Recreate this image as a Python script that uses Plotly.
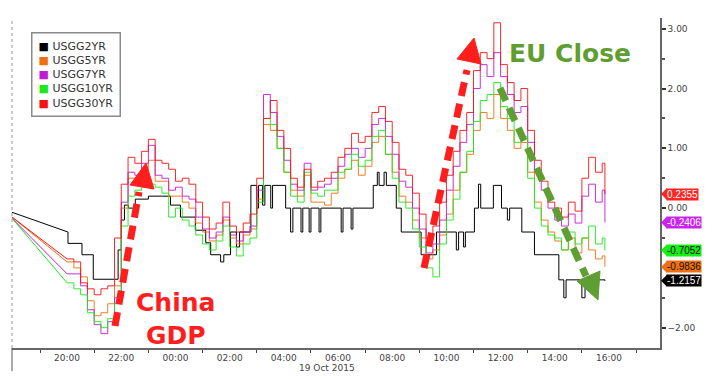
import plotly.graph_objects as go
import pandas as pd

# ---------------- data ----------------
series_names = ["USGG2YR", "USGG5YR", "USGG7YR", "USGG10YR", "USGG30YR"]
series_colors = ["#000000", "#f0700f", "#c21bd6", "#19ea19", "#f41414"]

gap_start_time = "2015-10-18 17:58"
grid_start = "2015-10-18 20:00"
grid_periods = 80
last_time = "2015-10-19 15:51"

# gap start values (weekend gap drawn as straight line)
gap_start_vals = [-0.07, -0.15, -0.17, -0.17, -0.15]

usgg5 = [-0.9, -1.0, -1.15, -1.55, -1.8, -1.75, -1.6, -1.3, 0.0, 0.5,
         0.45, 0.6, 0.8, 0.45, 0.45, 0.2, 0.2, 0.1, 0.0, -0.25,
         -0.4, -0.55, -0.45, -0.2, -0.5, -0.6, -0.45, -0.35, 0.15, 1.4,
         1.3, 1.0, 0.6, 0.3, 0.2, 0.55, 0.1, 0.1, 0.05, 0.25,
         0.5, 0.65, 0.8, 0.55, 0.7, 1.1, 1.2, 0.9, 0.6, 0.2,
         0.1, -0.2, -0.5, -0.85, -0.7, -0.45, -0.1, 0.3, 0.6, 0.9,
         1.3, 1.6, 1.5, 1.9, 1.5, 1.3, 1.0, 1.1, 0.6, 0.1,
         -0.2, -0.4, -0.55, -0.7, -0.5, -0.75, -0.5, -0.7, -0.85, -0.8,
         -0.9836]
usgg7 = [-1.1, -1.1, -1.3, -1.7, -1.95, -2.1, -1.9, -1.5, 0.1, 0.6,
         0.55, 0.75, 1.05, 0.55, 0.5, 0.3, 0.35, 0.2, 0.15, -0.15,
         -0.35, -0.5, -0.4, -0.15, -0.45, -0.55, -0.4, -0.3, 0.3, 1.9,
         1.6, 1.2, 0.8, 0.4, 0.3, 0.75, 0.3, 0.35, 0.4, 0.5,
         0.7, 0.9, 1.0, 0.85, 1.0, 1.4, 1.5, 1.2, 0.9, 0.45,
         0.35, 0.0, -0.35, -0.75, -0.6, -0.2, 0.3, 0.7, 1.1, 1.4,
         2.0, 2.4, 2.2, 2.6, 2.2, 1.9, 1.6, 1.7, 1.1, 0.6,
         0.3, 0.0, -0.2, -0.3, -0.1, -0.25, 0.2, 0.4, 0.1, 0.3,
         -0.2406]
usgg10 = [-1.25, -1.35, -1.45, -1.75, -1.9, -2.0, -1.85, -1.6, -0.3, 0.2,
          0.3, 0.6, 0.4, 0.35, 0.25, -0.15, 0.0, -0.2, -0.3, -0.45,
          -0.6, -0.7, -0.55, -0.3, -0.65, -0.8, -0.6, -0.5, 0.1, 1.5,
          1.4, 1.0, 0.6, 0.2, 0.1, 0.6, 0.25, 0.2, 0.3, 0.3,
          0.6, 0.65, 0.9, 0.7, 0.8, 1.2, 1.3, 0.9, 0.5, 0.1,
          0.0, -0.35, -0.65, -1.0, -1.15, -0.6, -0.2, 0.15, 0.6, 0.95,
          1.45, 1.8, 1.9, 2.1, 1.7, 1.5, 1.1, 1.2, 0.5, 0.0,
          -0.3, -0.45, -0.5, -0.7, -0.4, -0.6, -0.5, -0.3, -0.6, -0.5,
          -0.7052]
usgg30 = [-0.85, -0.9, -1.25, -1.35, -1.45, -1.35, -1.3, -0.5, 0.4, 0.85,
          0.75, 0.95, 1.15, 0.8, 0.75, 0.65, 0.45, 0.5, 0.4, 0.1,
          -0.15, -0.35, -0.25, 0.1, -0.3, -0.4, -0.25, -0.1, 0.5, 1.5,
          1.8, 1.3, 1.0, 0.5, 0.35, 0.65, 0.35, 0.45, 0.5, 0.6,
          0.85, 1.0, 1.25, 1.1, 1.2, 1.6, 1.7, 1.45, 1.1, 0.65,
          0.55, 0.25, -0.1, -0.5, -0.3, 0.1, 0.55, 0.95, 1.3, 1.6,
          2.3, 2.6, 2.5, 3.1, 2.4, 2.1, 1.8, 2.0, 1.3, 0.8,
          0.45, 0.1, 0.0, -0.15, 0.1, -0.05, 0.5, 0.85, 0.6, 0.75,
          0.2355]

usgg2_times = ["20:02", "20:33", "20:58", "21:53", "22:00", "22:07", "22:16", "22:31",
               "23:00", "23:49", "00:11", "00:44", "01:07", "01:18", "01:40", "01:47",
               "02:02", "02:15", "02:22", "02:47", "03:00", "03:04", "03:13", "03:18",
               "03:31", "03:35", "04:04", "04:15", "04:20", "04:38", "04:42", "04:56",
               "05:00", "05:18", "05:22", "06:07", "06:11", "06:29", "06:33", "07:18",
               "07:27", "07:31", "07:42", "07:47", "08:09", "08:20", "09:04", "09:38",
               "10:22", "10:27", "10:38", "10:42", "11:02", "11:11", "11:16", "11:44",
               "12:02", "12:15", "12:20", "12:47", "13:15", "14:09", "14:20", "14:25",
               "15:00", "15:07", "15:51"]
usgg2_vals = [-0.59, -0.78, -1.19, -0.7, -0.2, 0.05, 0.0, 0.15,
              0.2, 0.05, -0.15, -0.37, -0.58, -0.78, -0.9, -0.78,
              -0.4, -0.65, -0.4, 0.38, 0.0, 0.38, 0.05, 0.38,
              0.0, 0.38, 0.0, -0.4, 0.0, -0.4, 0.0, -0.4,
              0.0, -0.4, 0.0, -0.4, 0.0, -0.35, 0.0, 0.38,
              0.6, 0.38, 0.6, 0.38, 0.0, -0.4, -0.78, -0.4,
              -0.7, -0.4, -0.65, -0.4, 0.0, 0.4, 0.0, 0.38,
              0.0, -0.2, 0.0, -0.4, -0.78, -1.2, -1.5, -1.2,
              -1.5, -1.2, -1.2157]
usgg2_gap_end = -0.4

tag_vals = [0.2355, -0.2406, -0.7052, -0.9836, -1.2157]
tag_bg = ["#ff2424", "#cc22ee", "#16ee16", "#f07010", "#000000"]
tag_fg = ["#ffffff", "#ffffff", "#111111", "#111111", "#ffffff"]

x_tick_hours = ["20:00", "22:00", "00:00", "02:00", "04:00", "06:00",
                "08:00", "10:00", "12:00", "14:00", "16:00"]
y_tick_vals = [-2, 0, 1, 2, 3]

# ---------------- build ----------------
def to_ts(hm):
    h = int(hm.split(":")[0])
    day = "2015-10-18" if h >= 17 else "2015-10-19"
    return pd.Timestamp(f"{day} {hm}")

grid_times = list(pd.date_range(grid_start, periods=grid_periods, freq="15min")) + [pd.Timestamp(last_time)]
black_times = [to_ts(t) for t in usgg2_times]

colored = [usgg5, usgg7, usgg10, usgg30]

fig = go.Figure()

# gap segments
fig.add_trace(go.Scatter(x=[pd.Timestamp(gap_start_time), black_times[0]],
                         y=[gap_start_vals[0], usgg2_gap_end], mode="lines",
                         line=dict(color=series_colors[0], width=1), showlegend=False,
                         hoverinfo="skip"))
for i, vals in enumerate(colored):
    fig.add_trace(go.Scatter(x=[pd.Timestamp(gap_start_time), grid_times[0]],
                             y=[gap_start_vals[i + 1], vals[0]], mode="lines",
                             line=dict(color=series_colors[i + 1], width=1),
                             showlegend=False, hoverinfo="skip"))

# main step lines
fig.add_trace(go.Scatter(x=[black_times[0]] + black_times, y=[usgg2_gap_end] + usgg2_vals,
                         mode="lines", line=dict(color=series_colors[0], width=1, shape="hv"),
                         name=series_names[0], showlegend=False))
for i, vals in enumerate(colored):
    fig.add_trace(go.Scatter(x=grid_times, y=vals, mode="lines", name=series_names[i + 1],
                             line=dict(color=series_colors[i + 1], width=1, shape="hv"),
                             opacity=0.9, showlegend=False))

# plot-area geometry in pixels (for decorations)
L, R, T, B = 12, 660, 18, 348
W, H = 718, 379

def px(x, y):
    return (x - L) / (R - L), (B - y) / (B - T)

shapes = []
annotations = []

def dashed_arrow(p0, p1, tip, c1, c2, color):
    x0, y0 = px(*p0)
    x1, y1 = px(*p1)
    shapes.append(dict(type="line", xref="paper", yref="paper", x0=x0, y0=y0, x1=x1, y1=y1,
                       line=dict(color=color, width=7, dash="14px,8px")))
    pts = [px(*tip), px(*c1), px(*c2)]
    path = "M {} {} L {} {} L {} {} Z".format(pts[0][0], pts[0][1], pts[1][0], pts[1][1],
                                            pts[2][0], pts[2][1])
    shapes.append(dict(type="path", xref="paper", yref="paper", path=path,
                       fillcolor=color, line=dict(color=color, width=1)))

RED = "#ff1e1e"
GRN = "#5f9e32"
dashed_arrow((115, 326), (139, 192), (146, 163), (130, 185), (154, 189), RED)
dashed_arrow((424, 268), (467, 70), (474, 38), (457, 59), (481, 64), RED)
dashed_arrow((500, 88), (586, 276), (598, 300), (577, 281), (600, 271), GRN)

# left dotted border
shapes.append(dict(type="line", xref="paper", yref="paper", x0=0, x1=0, y0=0, y1=1,
                   line=dict(color="#999999", width=1, dash="dot")))
shapes.append(dict(type="line", xref="paper", yref="paper", x0=0, x1=0, y0=-0.07, y1=0,
                   line=dict(color="#555555", width=1)))

# tags on right axis
for v, bg, fg in zip(tag_vals, tag_bg, tag_fg):
    dx = 1.0 / (R - L)
    path = "M {} {} L {} {} L {} {} Z".format(1 + 1 * dx, v, 1 + 7 * dx, v + 0.1, 1 + 7 * dx, v - 0.1)
    shapes.append(dict(type="path", xref="paper", yref="y", path=path,
                       fillcolor=bg, line=dict(color=bg, width=0)))
    annotations.append(dict(x=1, xref="paper", y=v, yref="y", xanchor="left", yanchor="middle",
                            xshift=6, text=f"{v:.4f}", showarrow=False, bgcolor=bg,
                            borderpad=0, font=dict(family="Liberation Sans", size=10, color=fg)))

# legend box (coloured squares + series names)
legend_lines = [f'<span style="color:{c}">■</span> {n}' for n, c in zip(series_names, series_colors)]
lx, ly = px(31, 32)
annotations.append(dict(x=lx, y=ly, xref="paper", yref="paper", xanchor="left", yanchor="top",
                        text="<br>".join(legend_lines), align="left", showarrow=False,
                        bgcolor="white", bordercolor="#8a8a8a", borderwidth=1.5, borderpad=6,
                        font=dict(family="DejaVu Sans", size=11, color="#333333")))

cx, cy = px(175, 319)
annotations.append(dict(x=cx, y=cy, xref="paper", yref="paper", text="<b>China<br>GDP</b>",
                        showarrow=False, font=dict(family="DejaVu Sans", size=25, color=RED),
                        xanchor="center", yanchor="middle"))
ex, ey = px(570, 53)
annotations.append(dict(x=ex, y=ey, xref="paper", yref="paper", text="<b>EU Close</b>",
                        showarrow=False, font=dict(family="DejaVu Sans", size=25, color=GRN),
                        xanchor="center", yanchor="middle"))
dxp, dyp = px(327, 368)
annotations.append(dict(x=dxp, y=dyp, xref="paper", yref="paper", text="19 Oct 2015",
                        showarrow=False, font=dict(family="DejaVu Sans", size=9, color="#444"),
                        xanchor="center", yanchor="middle"))

tickvals_x = [to_ts(h) for h in x_tick_hours]

fig.update_layout(
    width=W, height=H,
    margin=dict(l=L, r=W - R, t=T, b=H - B),
    paper_bgcolor="white", plot_bgcolor="white",
    showlegend=False,
    xaxis=dict(type="date", range=["2015-10-18 17:58", "2015-10-19 17:53"],
               tickmode="array", tickvals=tickvals_x, ticktext=x_tick_hours,
               ticks="", showgrid=False, zeroline=False,
               showline=True, linecolor="#666666", linewidth=1.5,
               tickfont=dict(family="DejaVu Sans", size=9, color="#444"),
               minor=dict(tick0="2015-10-18 19:00", dtick=7200000, ticks="outside",
                          ticklen=3, tickcolor="#444", showgrid=False)),
    yaxis=dict(side="right", range=[-2.34, 3.18], tickmode="array", tickvals=y_tick_vals,
               tickformat=".2f", ticks="outside", ticklen=4, tickwidth=2, tickcolor="#333",
               showgrid=False, zeroline=False, showline=True, linecolor="#666666", linewidth=1.5,
               tickfont=dict(family="DejaVu Sans", size=9, color="#444"),
               minor=dict(tick0=0.5, dtick=1, ticks="outside", ticklen=3, tickcolor="#555",
                          showgrid=False)),
    shapes=shapes, annotations=annotations,
)

fig.write_html("out.html")
